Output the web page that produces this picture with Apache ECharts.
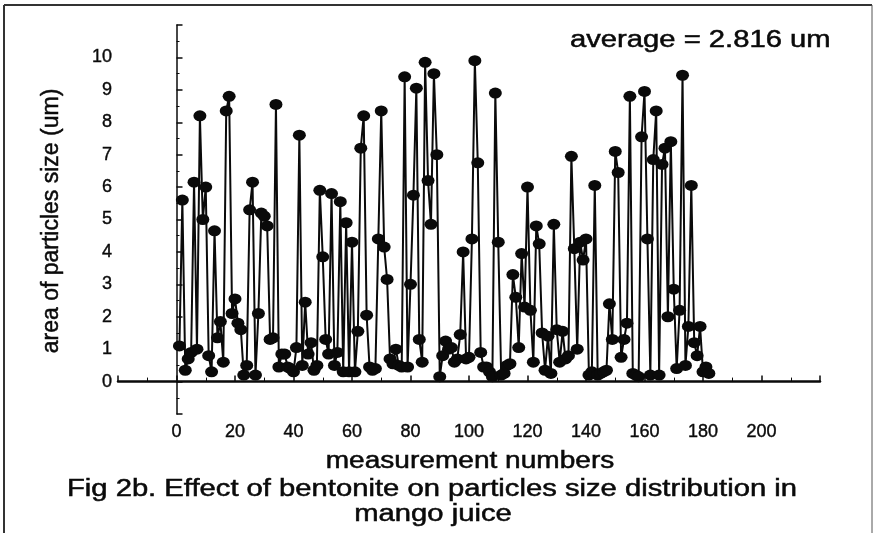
<!DOCTYPE html>
<html>
<head>
<meta charset="utf-8">
<script src="https://cdn.jsdelivr.net/npm/echarts@6/dist/echarts.min.js"></script>
<style>
  html, body { margin: 0; padding: 0; background: #fff; }
  #chart { width: 876px; height: 533px; }
</style>
</head>
<body>
<div id="chart"></div>
<script>
// measurement numbers start at 1
const startIndex = 1;
// area of particles size (um)
const particleSizes = [
  1.1, 5.6, 0.35, 0.7, 0.9, 6.15, 1.0, 8.2, 5.0, 6.0,
  0.8, 0.3, 4.65, 1.35, 1.85, 0.6, 8.35, 8.8, 2.1, 2.55,
  1.8, 1.6, 0.2, 0.5, 5.3, 6.15, 0.2, 2.1, 5.2, 5.1,
  4.8, 1.3, 1.35, 8.55, 0.45, 0.85, 0.85, 0.45, 0.4, 0.3,
  1.05, 7.6, 0.5, 2.45, 0.85, 1.2, 0.35, 0.5, 5.9, 3.85,
  1.3, 0.85, 5.8, 0.5, 0.9, 5.55, 0.3, 4.9, 0.3, 4.3,
  0.3, 1.55, 7.2, 8.2, 2.05, 0.45, 0.35, 0.4, 4.4, 8.35,
  4.15, 3.15, 0.7, 0.55, 1.0, 0.5, 0.45, 9.4, 0.45, 3.0,
  5.75, 9.05, 1.3, 0.6, 9.85, 6.2, 4.85, 9.5, 7.0, 0.15,
  0.8, 1.25, 1.0, 1.05, 0.6, 0.7, 1.45, 4.0, 0.7, 0.75,
  4.4, 9.9, 6.75, 0.9, 0.45, 0.45, 0.3, 0.15, 8.9, 4.3,
  0.2, 0.25, 0.5, 0.55, 3.3, 2.6, 1.05, 3.95, 2.3, 6.0,
  2.2, 0.6, 4.8, 4.25, 1.5, 0.35, 1.4, 0.25, 4.85, 1.6,
  0.6, 1.55, 0.7, 0.8, 6.95, 4.1, 1.0, 4.3, 3.75, 4.4,
  0.2, 0.3, 6.05, 0.2, 0.25, 0.3, 0.35, 2.4, 1.3, 7.1,
  6.45, 0.75, 1.3, 1.8, 8.8, 0.25, 0.2, 0.15, 7.55, 8.95,
  4.4, 0.2, 6.85, 8.35, 0.2, 6.7, 7.2, 2.0, 7.4, 2.85,
  0.4, 2.2, 9.45, 0.5, 1.7, 6.05, 1.2, 0.8, 1.7, 0.3,
  0.45, 0.25
];
const xTickLabels = [0, 20, 40, 60, 80, 100, 120, 140, 160, 180, 200];
const yTickLabels = [0, 1, 2, 3, 4, 5, 6, 7, 8, 9, 10];
const averageText = 'average = 2.816 um';
const xTitle = 'measurement numbers';
const yTitle = 'area of particles size (um)';
const captionLines = [
  'Fig 2b. Effect of bentonite on particles size distribution in',
  'mango juice'
];

const seriesData = particleSizes.map((v, i) => [startIndex + i, v]);
const ink = '#0a0a0a';
const font = 'Liberation Sans, Arial, Helvetica, sans-serif';

const chart = echarts.init(document.getElementById('chart'));

// the scan is wider than normal type, so stretch texts sideways
const wideText = (text, x, y, size, stretch, align) => ({
  type: 'text', x, y, scaleX: stretch,
  style: {
    text, fill: ink, font: size + 'px ' + font,
    align: align || 'center', verticalAlign: 'middle',
    stroke: ink, lineWidth: 0.5
  }
});

chart.setOption({
  backgroundColor: '#fff',
  animation: false,
  grid: { left: 118, right: 56, top: 25, bottom: 119 },
  xAxis: {
    type: 'value',
    min: -20, max: 220, interval: 20,
    axisLine: { lineStyle: { color: ink, width: 2.5 } },
    axisTick: { inside: true, length: 6, lineStyle: { color: ink, width: 1.5 } },
    minorTick: { show: true, splitNumber: 2, length: 4, lineStyle: { color: ink } },
    splitLine: { show: false },
    axisLabel: {
      color: ink, fontFamily: font, fontSize: 18, margin: 9,
      textBorderColor: ink, textBorderWidth: 0.4,
      formatter: v => xTickLabels.includes(v) ? String(v) : ''
    }
  },
  yAxis: {
    type: 'value',
    min: -1, max: 11, interval: 1,
    axisLine: { lineStyle: { color: ink, width: 1.5 } },
    axisTick: { inside: true, length: 6, lineStyle: { color: ink, width: 1.5 } },
    minorTick: { show: true, splitNumber: 2, length: 3, lineStyle: { color: ink } },
    splitLine: { show: false },
    axisLabel: {
      color: ink, fontFamily: font, fontSize: 18, margin: 6,
      textBorderColor: ink, textBorderWidth: 0.4,
      formatter: v => yTickLabels.includes(v) ? String(v) : ''
    }
  },
  series: [{
    type: 'line',
    data: seriesData,
    symbol: 'circle',
    symbolSize: [13, 11],
    showAllSymbol: true,
    itemStyle: { color: ink },
    lineStyle: { color: ink, width: 2 },
    z: 3
  }],
  graphic: [
    { type: 'line', shape: { x1: 4, y1: 5, x2: 872, y2: 5 }, style: { stroke: '#333', lineWidth: 2 } },
    { type: 'line', shape: { x1: 4, y1: 5, x2: 4, y2: 533 }, style: { stroke: '#333', lineWidth: 2 } },
    { type: 'line', shape: { x1: 872, y1: 5, x2: 872, y2: 533 }, style: { stroke: '#555', lineWidth: 1 } },
    wideText(averageText, 570, 41, 23, 1.27, 'left'),
    {
      type: 'text', rotation: Math.PI / 2, x: 52, y: 221,
      style: {
        text: yTitle, fill: ink, font: '23px ' + font,
        align: 'center', verticalAlign: 'middle', stroke: ink, lineWidth: 0.5
      }
    },
    wideText(xTitle, 470, 462, 23, 1.22),
    wideText(captionLines[0], 432, 490, 23, 1.27),
    wideText(captionLines[1], 433, 515, 23, 1.27)
  ]
});
</script>
</body>
</html>
